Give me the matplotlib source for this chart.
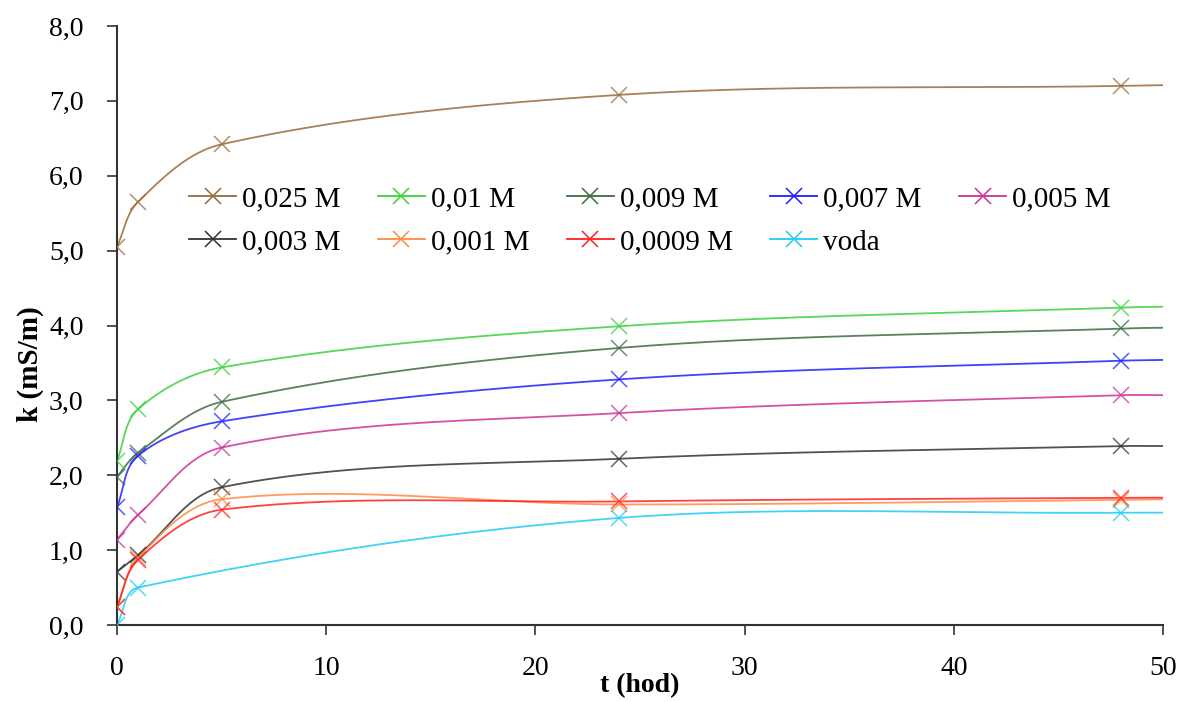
import numpy as np
import matplotlib
matplotlib.use("Agg")
import matplotlib.pyplot as plt

# measurement times (hours)
t_full = [0, 1, 5, 24, 48]
t_water = [0, 1, 24, 48]
# the lines run on to the right edge of the plot (t = 50)
t_edge = 50

labels = ["0,025 M", "0,01 M", "0,009 M", "0,007 M", "0,005 M",
          "0,003 M", "0,001 M", "0,0009 M", "voda"]
colors = ["#9a6a3a", "#3ad13a", "#3f6b3f", "#2020ff", "#cc3399",
          "#333333", "#ff8a40", "#ff2020", "#20ccf5"]

k_0025 = [5.05, 5.65, 6.42, 7.08, 7.20]
k_001 = [2.19, 2.88, 3.44, 3.99, 4.24]
k_0009 = [1.98, 2.30, 2.98, 3.70, 3.96]
k_0007 = [1.57, 2.26, 2.72, 3.28, 3.53]
k_0005 = [1.14, 1.47, 2.37, 2.83, 3.07]
k_0003 = [0.71, 0.93, 1.84, 2.22, 2.39]
k_0001 = [0.245, 0.90, 1.68, 1.61, 1.67]
k_00009 = [0.245, 0.87, 1.54, 1.65, 1.70]
k_voda = [0.0, 0.50, 1.43, 1.50]

k_edge = [7.21, 4.25, 3.97, 3.54, 3.07, 2.39, 1.68, 1.70, 1.50]

series = [k_0025, k_001, k_0009, k_0007, k_0005, k_0003, k_0001, k_00009, k_voda]
times = [t_full] * 8 + [t_water]

# axes box in pixels (smoothing is done in screen space, like a spreadsheet)
AX_W, AX_H = 1046.0, 599.0
XMAX, YMAX = 50.0, 8.0


def smooth(x, y, n=80):
    sx, sy = AX_W / XMAX, AX_H / YMAX
    p = np.column_stack([np.asarray(x, float) * sx, np.asarray(y, float) * sy])
    m = len(p)
    # tangent directions
    d = np.zeros_like(p)
    for i in range(m):
        a = p[max(i - 1, 0)]
        b = p[min(i + 1, m - 1)]
        v = b - a
        d[i] = v / np.hypot(*v)
    out = []
    s = np.linspace(0, 1, n)[:, None]
    for i in range(m - 1):
        p1, p2 = p[i], p[i + 1]
        L = np.hypot(*(p2 - p1)) / 3.0
        c1 = p1 + d[i] * L
        c2 = p2 - d[i + 1] * L
        seg = ((1 - s) ** 3) * p1 + 3 * ((1 - s) ** 2) * s * c1 \
            + 3 * (1 - s) * s ** 2 * c2 + s ** 3 * p2
        out.append(seg if i == 0 else seg[1:])
    out = np.vstack(out)
    return out[:, 0] / sx, out[:, 1] / sy


plt.rcParams["font.family"] = ["Liberation Serif", "DejaVu Serif"]

fig = plt.figure(figsize=(11.82, 7.02), dpi=100)
ax = fig.add_axes([117 / 1182, 1 - 625 / 702, AX_W / 1182, AX_H / 702])

handles = []
for tt, kk, ke, col, lab in zip(times, series, k_edge, colors, labels):
    xs, ys = smooth(list(tt) + [t_edge], list(kk) + [ke])
    ax.plot(xs, ys, color=col, lw=1.3, alpha=0.85, zorder=2)
    ax.plot(tt, kk, ls="none", marker="x", ms=11, mew=1.1, color=col,
            alpha=0.75, zorder=3)
    h, = ax.plot([], [], color=col, lw=1.3, marker="x", ms=11, mew=1.1, label=lab)
    handles.append(h)

ax.set_xlim(0, XMAX)
ax.set_ylim(0, YMAX)
ax.set_xticks(np.arange(0, 51, 10))
ax.set_yticks(np.arange(0, 8.1, 1))
ax.set_yticklabels([f"{v:.1f}".replace(".", ",") for v in np.arange(0, 8.1, 1)])

for side in ["top", "right"]:
    ax.spines[side].set_visible(False)
for side in ["left", "bottom"]:
    ax.spines[side].set_linewidth(1.5)
    ax.spines[side].set_color("#333333")
ax.tick_params(axis="both", direction="out", length=7, width=1.2, color="#333333")
ax.tick_params(axis="y", labelsize=20, pad=17)
ax.tick_params(axis="x", labelsize=20, pad=15)

ax.set_ylabel("k (mS/m)", fontsize=21, fontweight="bold")
ax.yaxis.set_label_coords(-0.070, 0.435)
ax.set_xlabel("t (hod)", fontsize=20, fontweight="bold")
ax.xaxis.set_label_coords(0.5, -0.080)

# legend laid out row by row (matplotlib fills columns first)
order = [0, 5, 1, 6, 2, 7, 3, 8, 4]
ax.legend([handles[i] for i in order], [labels[i] for i in order],
          loc="upper left", bbox_to_anchor=(0.069, 0.733), ncol=5,
          frameon=False, fontsize=21, handlelength=1.6, handletextpad=0.2,
          columnspacing=1.3, labelspacing=0.58, borderpad=0,
          borderaxespad=0)

fig.savefig("out.png", dpi=100)
